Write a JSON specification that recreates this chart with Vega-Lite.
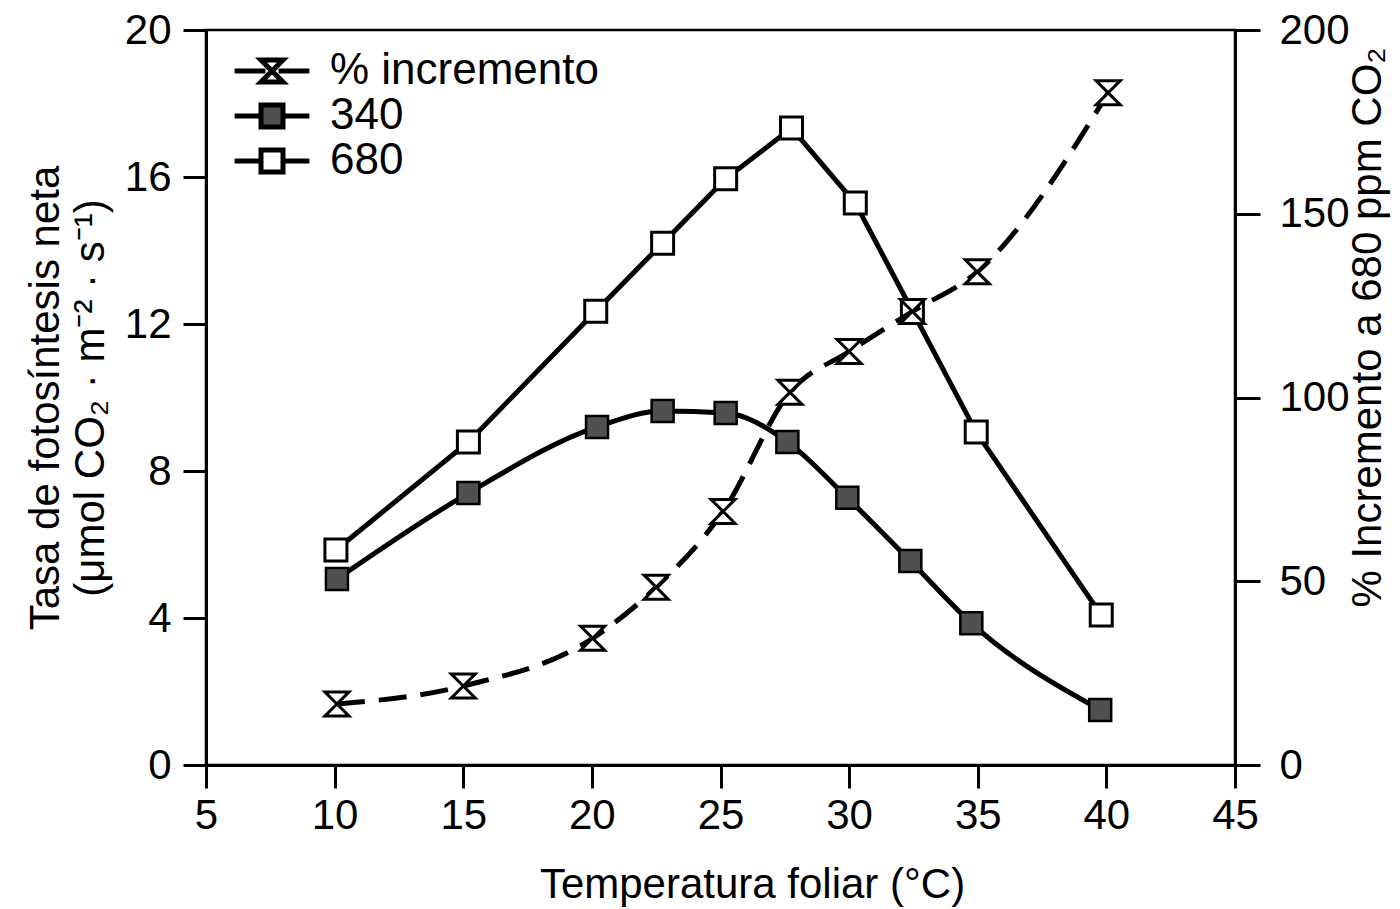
{
  "$schema": "https://vega.github.io/schema/vega-lite/v6.json",
  "width": 1029,
  "height": 735,
  "autosize": {"type": "none"},
  "padding": {"left": 206, "top": 30, "right": 165, "bottom": 144},
  "background": "white",
  "config": {
    "font": "Liberation Sans",
    "view": {"stroke": "black", "strokeWidth": 2.5},
    "axis": {"grid": false, "domainColor": "black", "domainWidth": 3, "tickColor": "black", "tickWidth": 3, "labelColor": "black", "titleColor": "black", "labelFontSize": 42, "titleFontSize": 42, "titleFontWeight": "normal", "labelOverlap": false, "labelFlush": false, "labelBound": false},
    "legend": {"title": null, "orient": "none", "legendX": 44, "legendY": 19, "padding": 0, "labelFontSize": 44, "labelColor": "black", "labelOffset": 36, "labelLimit": 500, "symbolSize": 484, "symbolStrokeColor": "black", "symbolStrokeWidth": 5, "rowPadding": 1}
  },
  "data": {
    "values": [
      {"series": "340", "t": 10.09, "v": 5.06},
      {"series": "340", "t": 15.2, "v": 7.4},
      {"series": "340", "t": 20.2, "v": 9.2},
      {"series": "340", "t": 22.75, "v": 9.63},
      {"series": "340", "t": 25.2, "v": 9.58},
      {"series": "340", "t": 27.6, "v": 8.79},
      {"series": "340", "t": 29.93, "v": 7.27},
      {"series": "340", "t": 32.38, "v": 5.55},
      {"series": "340", "t": 34.75, "v": 3.86},
      {"series": "340", "t": 39.76, "v": 1.5},
      {"series": "680", "t": 10.05, "v": 5.85},
      {"series": "680", "t": 15.2, "v": 8.79},
      {"series": "680", "t": 20.15, "v": 12.35},
      {"series": "680", "t": 22.75, "v": 14.2},
      {"series": "680", "t": 25.2, "v": 15.95},
      {"series": "680", "t": 27.76, "v": 17.33},
      {"series": "680", "t": 30.24, "v": 15.29},
      {"series": "680", "t": 32.46, "v": 12.35},
      {"series": "680", "t": 34.94, "v": 9.06},
      {"series": "680", "t": 39.8, "v": 4.08},
      {"series": "% incremento", "t": 10.09, "v": 16.6},
      {"series": "% incremento", "t": 15.0, "v": 21.5},
      {"series": "% incremento", "t": 20.03, "v": 34.5},
      {"series": "% incremento", "t": 22.5, "v": 48.4},
      {"series": "% incremento", "t": 25.1, "v": 69},
      {"series": "% incremento", "t": 27.7, "v": 101.4},
      {"series": "% incremento", "t": 30.0, "v": 112.5},
      {"series": "% incremento", "t": 32.46, "v": 123.4},
      {"series": "% incremento", "t": 34.98, "v": 134.2},
      {"series": "% incremento", "t": 40.07, "v": 182.9}
    ]
  },
  "encoding": {
    "x": {
      "field": "t", "type": "quantitative",
      "scale": {"domain": [5, 45], "nice": false, "zero": false},
      "axis": {"values": [5, 10, 15, 20, 25, 30, 35, 40, 45], "tickSize": 23, "labelPadding": 7, "title": "Temperatura foliar (°C)", "titlePadding": 28, "titleX": 546}
    }
  },
  "layer": [
    {
      "encoding": {
        "y": {
          "field": "v", "type": "quantitative",
          "scale": {"domain": [0, 20], "nice": false},
          "axis": {"orient": "left", "values": [0, 4, 8, 12, 16, 20], "tickSize": 23, "labelPadding": 12, "title": ["Tasa de fotosíntesis neta", "(μmol CO₂ · m⁻² · s⁻¹)"], "titleLineHeight": 45, "titlePadding": 12}
        }
      },
      "layer": [
        {
          "transform": [{"filter": "datum.series == '340'"}],
          "mark": {"type": "line", "interpolate": "monotone", "color": "black", "strokeWidth": 5}
        },
        {
          "transform": [{"filter": "datum.series == '680'"}],
          "mark": {"type": "line", "interpolate": "linear", "color": "black", "strokeWidth": 5}
        },
        {
          "transform": [{"filter": "datum.series == '340'"}],
          "mark": {"type": "point", "shape": "square", "filled": true, "fill": "#505050", "stroke": "black", "strokeWidth": 2.5, "size": 484, "opacity": 1}
        },
        {
          "transform": [{"filter": "datum.series == '680'"}],
          "mark": {"type": "point", "shape": "square", "filled": true, "fill": "white", "stroke": "black", "strokeWidth": 3, "size": 484, "opacity": 1}
        },
        {
          "transform": [{"filter": "datum.series == 'none'"}],
          "mark": {"type": "point", "filled": true, "strokeWidth": 5, "opacity": 1},
          "encoding": {
            "shape": {
              "field": "series", "type": "nominal",
              "scale": {"domain": ["% incremento", "340", "680"], "range": ["M-3.4,0H-0.6M0.6,0H3.4M-1,-1H1L-1,1H1Z", "M-3.4,0H-1M1,0H3.4M-1,-1H1V1H-1Z", "M-3.4,0H-1M1,0H3.4M-1,-1H1V1H-1Z"]}
            },
            "fill": {
              "field": "series", "type": "nominal",
              "scale": {"domain": ["% incremento", "340", "680"], "range": ["white", "#505050", "white"]}
            },
            "stroke": {
              "field": "series", "type": "nominal",
              "scale": {"domain": ["% incremento", "340", "680"], "range": ["black", "black", "black"]}
            }
          }
        }
      ]
    },
    {
      "encoding": {
        "y": {
          "field": "v", "type": "quantitative",
          "scale": {"domain": [0, 200], "nice": false},
          "axis": {"orient": "right", "values": [0, 50, 100, 150, 200], "tickSize": 25, "labelPadding": 19, "title": "% Incremento a 680 ppm CO₂", "titleAngle": 270, "titleY": 297, "titlePadding": 40}
        }
      },
      "layer": [
        {
          "transform": [{"filter": "datum.series == '% incremento'"}],
          "mark": {"type": "line", "interpolate": "monotone", "color": "black", "strokeWidth": 5, "strokeDash": [28, 14]}
        },
        {
          "transform": [{"filter": "datum.series == '% incremento'"}],
          "mark": {"type": "point", "shape": "M-1,-1H1L-1,1H1Z", "filled": true, "fill": "white", "stroke": "black", "strokeWidth": 3, "size": 576, "opacity": 1}
        }
      ]
    }
  ],
  "resolve": {"scale": {"y": "independent"}}
}
